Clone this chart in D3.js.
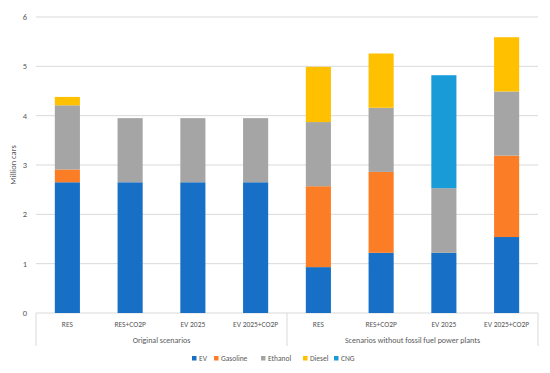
<!DOCTYPE html>
<html>
<head>
<meta charset="utf-8">
<script src="https://cdn.jsdelivr.net/npm/d3@7"></script>
<style>
  body { margin: 0; background: #fff; }
  text { font-family: Calibri, "Liberation Sans", "DejaVu Sans", sans-serif; fill: #595959; }
</style>
</head>
<body>
<div id="chart"></div>
<script>
// data
const scenarios = ["RES", "RES+CO2P", "EV 2025", "EV 2025+CO2P", "RES", "RES+CO2P", "EV 2025", "EV 2025+CO2P"];
const groups = ["Original scenarios", "Scenarios without fossil fuel power plants"];
const fuels = ["EV", "Gasoline", "Ethanol", "Diesel", "CNG"];
const ev       = [2.65, 2.65, 2.65, 2.65, 0.93, 1.22, 1.22, 1.54];
const gasoline = [0.26, 0, 0, 0, 1.64, 1.64, 0, 1.65];
const ethanol  = [1.30, 1.30, 1.30, 1.30, 1.30, 1.30, 1.31, 1.30];
const diesel   = [0.17, 0, 0, 0, 1.12, 1.10, 0, 1.10];
const cng      = [0, 0, 0, 0, 0, 0, 2.29, 0];
const yTicks = [0, 1, 2, 3, 4, 5, 6];

const colors = {"EV": "#1770c6", "Gasoline": "#fb7d26", "Ethanol": "#a5a5a5", "Diesel": "#ffc000", "CNG": "#199bd7"};

const width = 550, height = 373;
const margin = {top: 17, left: 36, right: 12, bottom: 60};

let rows = scenarios.map((s, i) => ({
    key: i, EV: ev[i], Gasoline: gasoline[i], Ethanol: ethanol[i], Diesel: diesel[i], CNG: cng[i]
}));

let svg = d3.select("#chart").append("svg")
    .attr("width", width)
    .attr("height", height);

const x = d3.scaleBand()
    .domain(d3.range(scenarios.length))
    .range([margin.left, width - margin.right])
    .paddingInner(0.6)
    .paddingOuter(0.3);
const y = d3.scaleLinear()
    .domain([0, 6])
    .range([313, margin.top]);

// gridlines
svg.append("g").selectAll("line").data(yTicks).join("line")
    .attr("x1", margin.left).attr("x2", width - margin.right)
    .attr("y1", d => y(d)).attr("y2", d => y(d))
    .attr("stroke", "#d9d9d9").attr("stroke-width", 1);

// y tick labels
svg.append("g").selectAll("text").data(yTicks).join("text")
    .attr("x", 27).attr("y", d => y(d) + 3)
    .attr("text-anchor", "end")
    .style("font-size", "8.5px")
    .text(d => d);

svg.append("text")
    .attr("transform", "translate(16," + y(3) + ") rotate(-90)")
    .attr("text-anchor", "middle")
    .style("font-size", "8.5px")
    .text("Million cars");

// stacked bars
let series = d3.stack().keys(fuels)(rows);
svg.append("g").selectAll("g").data(series).join("g")
    .attr("fill", d => colors[d.key])
    .selectAll("rect").data(d => d.filter(v => v[1] - v[0] > 0)).join("rect")
    .attr("x", d => x(d.data.key))
    .attr("y", d => y(d[1]))
    .attr("width", x.bandwidth())
    .attr("height", d => y(d[0]) - y(d[1]));

// x axis: category labels and group separators
const step = (width - margin.right - margin.left) / scenarios.length;
const x0 = margin.left;
svg.append("g").selectAll("line").data([0, 4, 8]).join("line")
    .attr("x1", d => x0 + d * step).attr("x2", d => x0 + d * step)
    .attr("y1", 313).attr("y2", 346)
    .attr("stroke", "#d9d9d9");

svg.append("g").selectAll("text").data(scenarios).join("text")
    .attr("x", (d, i) => x(i) + x.bandwidth() / 2)
    .attr("y", 327)
    .attr("text-anchor", "middle")
    .style("font-size", "7.5px")
    .text(d => d);

svg.append("g").selectAll("text").data(groups).join("text")
    .attr("x", (d, i) => x0 + (i * 4 + 2) * step)
    .attr("y", 343)
    .attr("text-anchor", "middle")
    .style("font-size", "8px")
    .text(d => d);

// legend
const legendX = [192, 214, 261, 303, 334];
let legend = svg.append("g").selectAll("g").data(fuels).join("g")
    .attr("transform", (d, i) => "translate(" + legendX[i] + ",358)");
legend.append("rect")
    .attr("y", -2).attr("width", 4.5).attr("height", 4.5)
    .attr("fill", d => colors[d]);
legend.append("text")
    .attr("x", 7).attr("y", 3)
    .style("font-size", "7.5px")
    .text(d => d);
</script>
</body>
</html>
